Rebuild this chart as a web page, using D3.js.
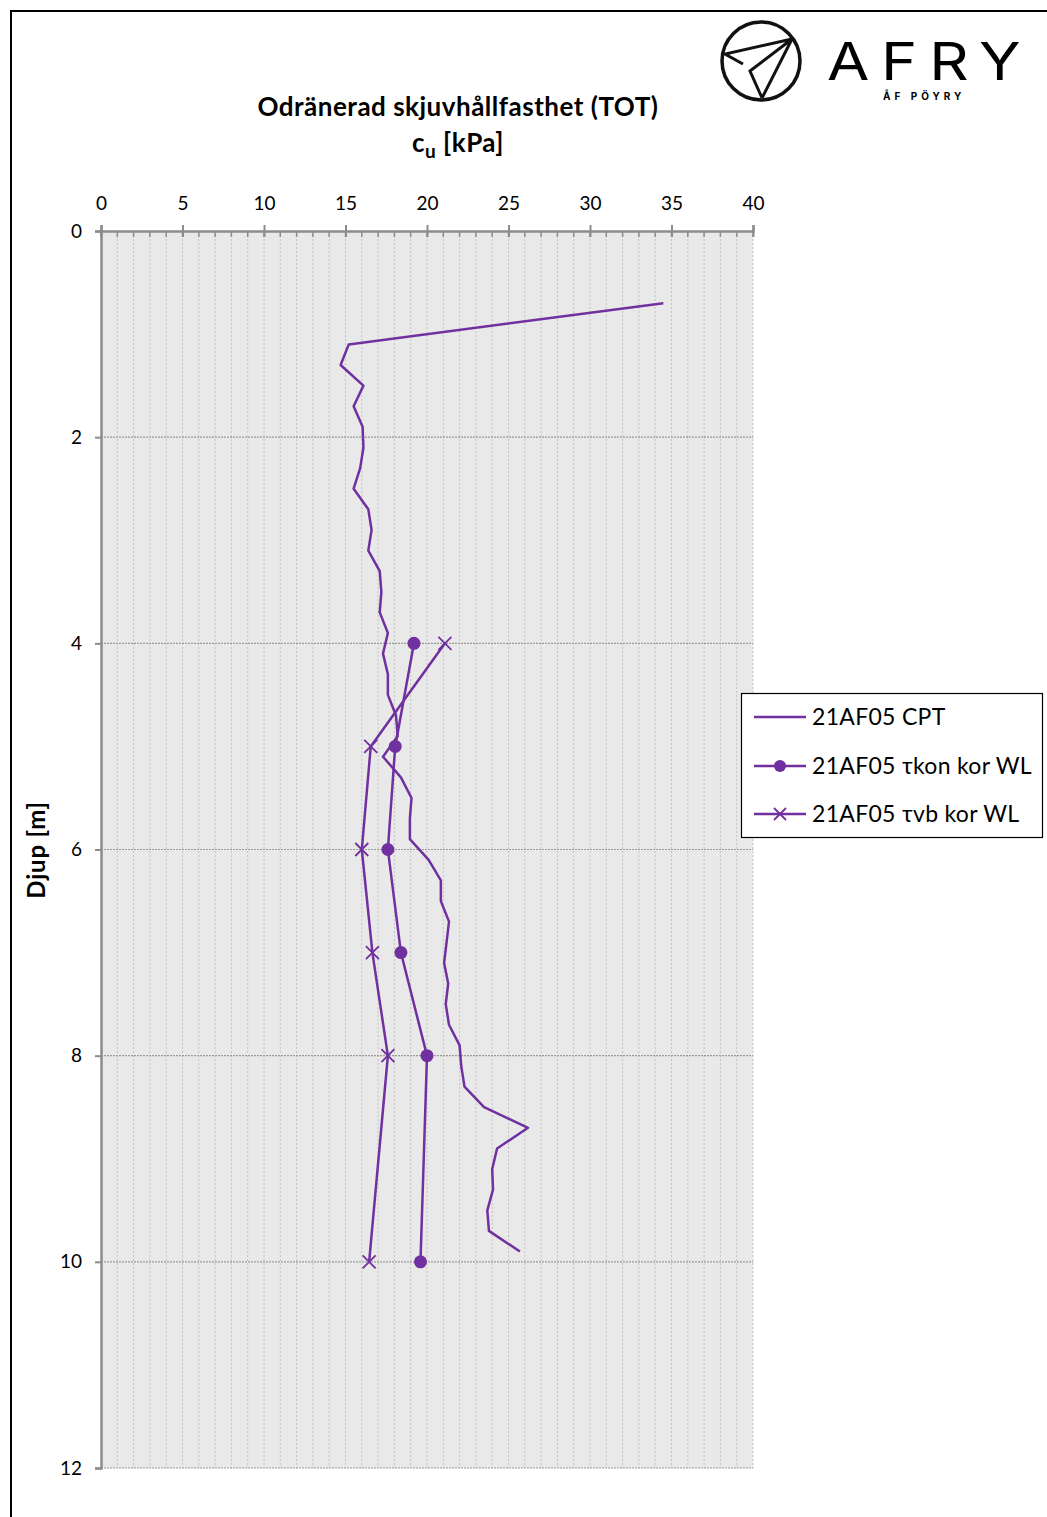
<!DOCTYPE html>
<html lang="sv">
<head>
<meta charset="UTF-8">
<title>Odränerad skjuvhållfasthet</title>
<script src="https://d3js.org/d3.v7.min.js"></script>
<style>
  body {margin: 0; background: #fff;}
  svg {display: block;}
  text {font-family: Lato, "Open Sans", sans-serif; fill: #000;}
</style>
</head>
<body>
<svg id="chart" width="1047" height="1517"></svg>
<script>
// CPT sounding 21AF05 (depth m, cu kPa)
let cptDepth = [0.7, 1.1, 1.3, 1.5, 1.7, 1.9, 2.1, 2.3, 2.5, 2.7, 2.9, 3.1, 3.3, 3.5, 3.7, 3.9,
    4.1, 4.3, 4.5, 4.7, 4.9, 5.1, 5.3, 5.5, 5.7, 5.9, 6.1, 6.3, 6.5, 6.7, 6.9, 7.1, 7.3, 7.5,
    7.7, 7.9, 8.1, 8.3, 8.5, 8.7, 8.9, 9.1, 9.3, 9.5, 9.7, 9.9];
let cptCu = [34.5, 15.2, 14.7, 16.1, 15.5, 16.05, 16.1, 15.9, 15.5, 16.4, 16.6, 16.4, 17.1, 17.2, 17.1, 17.6,
    17.3, 17.6, 17.6, 18.1, 18.2, 17.3, 18.4, 19.05, 18.95, 18.95, 20.1, 20.85, 20.85, 21.35, 21.2, 21.05, 21.3, 21.15,
    21.35, 22.0, 22.1, 22.3, 23.5, 26.2, 24.3, 24.0, 24.05, 23.7, 23.8, 25.7];

// fall cone (tkon) and vane (tvb), corrected for WL
let konDepth = [4, 5, 6, 7, 8, 10];
let konCu = [19.2, 18.05, 17.6, 18.4, 20.0, 19.6];
let vbDepth = [4, 5, 6, 7, 8, 10];
let vbCu = [21.1, 16.55, 16.0, 16.65, 17.6, 16.45];

let seriesNames = ["21AF05 CPT", "21AF05 τkon kor WL", "21AF05 τvb kor WL"];
let xTicks = [0, 5, 10, 15, 20, 25, 30, 35, 40];
let yTicks = [0, 2, 4, 6, 8, 10, 12];

let purple = "#7030a0";
let svg = d3.select("#chart");

// outer frame
svg.append("path")
    .attr("d", "M11,1517 V11 H1047")
    .attr("fill", "none").attr("stroke", "#000").attr("stroke-width", 2);

let x = d3.scaleLinear().domain([0, 40]).range([101, 753]);
let y = d3.scaleLinear().domain([0, 12]).range([231, 1468]);

// plot background
svg.append("rect")
    .attr("x", x(0)).attr("y", y(0))
    .attr("width", x(40) - x(0)).attr("height", y(12) - y(0))
    .attr("fill", "#e9e9e9");

// vertical grid every 1 kPa
svg.append("g").selectAll("line")
    .data(d3.range(1, 41))
    .join("line")
    .attr("x1", d => x(d)).attr("x2", d => x(d))
    .attr("y1", y(0)).attr("y2", y(12))
    .attr("stroke", "#c2c2c2").attr("stroke-width", 1)
    .attr("stroke-dasharray", "2,2");

// horizontal grid every 2 m
svg.append("g").selectAll("line")
    .data(yTicks.slice(1))
    .join("line")
    .attr("x1", x(0)).attr("x2", x(40))
    .attr("y1", d => y(d)).attr("y2", d => y(d))
    .attr("stroke", "#9a9a9a").attr("stroke-width", 1.2)
    .attr("stroke-dasharray", "2,1");

// minor ticks on top axis (point inwards)
svg.append("g").selectAll("line")
    .data(d3.range(0, 41))
    .join("line")
    .attr("x1", d => x(d)).attr("x2", d => x(d))
    .attr("y1", y(0)).attr("y2", y(0) + 6)
    .attr("stroke", "#8c8c8c").attr("stroke-width", 1.5);

// top axis
let xAxis = svg.append("g")
    .attr("transform", `translate(0,${y(0)})`)
    .call(d3.axisTop(x).tickValues(xTicks).tickSize(6).tickPadding(15));
xAxis.select(".domain").attr("stroke", "#8c8c8c").attr("stroke-width", 2.5);
xAxis.selectAll(".tick line").attr("stroke", "#8c8c8c").attr("stroke-width", 2).attr("y2", -6);
xAxis.selectAll(".tick").append("line")
    .attr("y1", 0).attr("y2", 6).attr("stroke", "#8c8c8c").attr("stroke-width", 2);
xAxis.selectAll("text").attr("font-size", 19).attr("fill", "#111")
    .style("font-family", "Lato, sans-serif");

// left axis
let yAxis = svg.append("g")
    .attr("transform", `translate(${x(0)},0)`)
    .call(d3.axisLeft(y).tickValues(yTicks).tickSize(6).tickPadding(13));
yAxis.select(".domain").attr("stroke", "#8c8c8c").attr("stroke-width", 2.5);
yAxis.selectAll(".tick line").attr("stroke", "#8c8c8c").attr("stroke-width", 2);
yAxis.selectAll("text").attr("font-size", 19).attr("fill", "#111")
    .style("font-family", "Lato, sans-serif");

// series
let line = d3.line().x(d => x(d[0])).y(d => y(d[1]));

let cpt = d3.zip(cptCu, cptDepth);
let kon = d3.zip(konCu, konDepth);
let vb = d3.zip(vbCu, vbDepth);

svg.append("path").datum(cpt).attr("d", line)
    .attr("fill", "none").attr("stroke", purple).attr("stroke-width", 2.5)
    .attr("stroke-linejoin", "round");

svg.append("path").datum(kon).attr("d", line)
    .attr("fill", "none").attr("stroke", purple).attr("stroke-width", 2.5);
svg.append("g").selectAll("circle")
    .data(kon).join("circle")
    .attr("cx", d => x(d[0])).attr("cy", d => y(d[1])).attr("r", 6.5)
    .attr("fill", purple);

svg.append("path").datum(vb).attr("d", line)
    .attr("fill", "none").attr("stroke", purple).attr("stroke-width", 2.5);

function cross(g, cx, cy, s) {
    g.append("path")
        .attr("d", `M${cx - s},${cy - s}L${cx + s},${cy + s}M${cx - s},${cy + s}L${cx + s},${cy - s}`)
        .attr("stroke", purple).attr("stroke-width", 1.8).attr("fill", "none");
}
let vbMarks = svg.append("g");
vb.forEach(d => cross(vbMarks, x(d[0]), y(d[1]), 6.5));

// titles
svg.append("text")
    .attr("x", 458).attr("y", 116).attr("text-anchor", "middle")
    .attr("font-size", 26).attr("font-weight", "bold").attr("letter-spacing", 0.5)
    .text("Odränerad skjuvhållfasthet (TOT)");
let sub = svg.append("text")
    .attr("x", 458).attr("y", 152).attr("text-anchor", "middle")
    .attr("font-size", 26).attr("font-weight", "bold").attr("letter-spacing", 0.5);
sub.append("tspan").text("c");
sub.append("tspan").attr("dy", 6).attr("font-size", 19).text("u");
sub.append("tspan").attr("dy", -6).text(" [kPa]");

svg.append("text")
    .attr("transform", "translate(45,850) rotate(-90)")
    .attr("text-anchor", "middle")
    .attr("font-size", 24).attr("font-weight", "bold").attr("letter-spacing", 0.8)
    .text("Djup [m]");

// legend
let lg = svg.append("g");
lg.append("rect")
    .attr("x", 741.5).attr("y", 693.5).attr("width", 301).attr("height", 144)
    .attr("fill", "#fff").attr("stroke", "#000").attr("stroke-width", 1.2);
let legY = [717, 766, 814];
seriesNames.forEach((name, i) => {
    let ly = legY[i];
    lg.append("line").attr("x1", 754).attr("x2", 806).attr("y1", ly).attr("y2", ly)
        .attr("stroke", purple).attr("stroke-width", 2.5);
    if (i === 1) lg.append("circle").attr("cx", 780).attr("cy", ly).attr("r", 6).attr("fill", purple);
    if (i === 2) cross(lg, 780, ly, 6);
    lg.append("text").attr("x", 812).attr("y", ly + 8)
        .attr("font-size", 23).attr("letter-spacing", 0.3).text(name);
});

// AFRY logo
let logo = svg.append("g");
logo.append("circle").attr("cx", 761).attr("cy", 61).attr("r", 39)
    .attr("fill", "none").attr("stroke", "#111").attr("stroke-width", 3.5);
logo.append("path")
    .attr("d", "M792,39 L725,54 L743,64 M792,39 L750,71 L762,98 M792,39 L762,98")
    .attr("fill", "none").attr("stroke", "#111").attr("stroke-width", 3)
    .attr("stroke-linejoin", "miter");
logo.append("text")
    .attr("transform", "translate(827,80) scale(1.18,1)")
    .attr("font-size", 52).attr("letter-spacing", 10)
    .style("font-family", "Inter, 'Open Sans', sans-serif").attr("font-weight", 400)
    .text("AFRY");
logo.append("text")
    .attr("x", 883).attr("y", 100)
    .attr("font-size", 10).attr("letter-spacing", 4).attr("font-weight", "bold")
    .style("font-family", "Inter, sans-serif")
    .text("ÅF PÖYRY");
</script>
</body>
</html>
